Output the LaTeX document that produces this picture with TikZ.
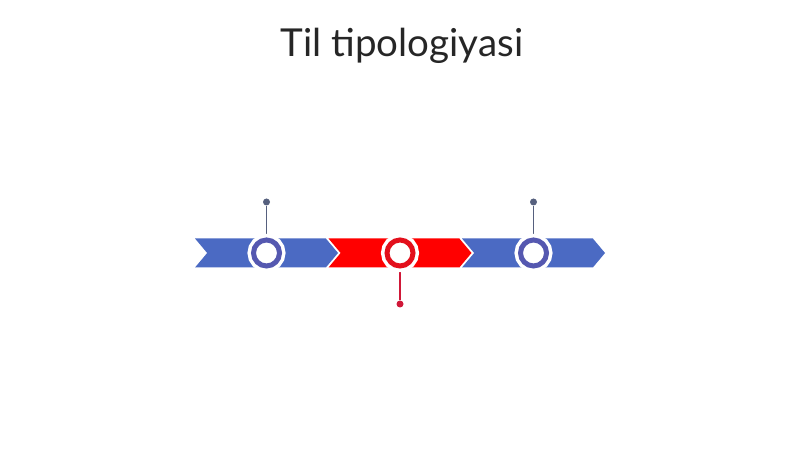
\documentclass[tikz,border=0pt]{standalone}
\usepackage{fontspec}
\setmainfont{Lato}
\usetikzlibrary{positioning,shapes.symbols}

\definecolor{bandblue}{HTML}{4B6AC3}
\definecolor{bandred}{HTML}{FF0000}
\definecolor{ringblue}{HTML}{5558B0}
\definecolor{ringred}{HTML}{E3101C}
\definecolor{pinblue}{HTML}{56607E}
\definecolor{pinred}{HTML}{D01838}

\begin{document}
\begin{tikzpicture}[x=1pt,y=1pt,node distance=133.5pt,on grid,
    band/.style={signal, signal to=east, signal from=west, signal pointer angle=100,
                 fill=#1, minimum width=143pt, minimum height=29pt, inner sep=0pt},
    ring/.style={circle, draw=white, double=#1, double distance=5pt, line width=3.5pt,
                 fill=white, minimum size=26pt, inner sep=0pt},
    dot/.style={circle, fill=#1, minimum size=7pt, inner sep=0pt},
    stem/.style={draw=#1, line width=1.4pt}]
    \useasboundingbox (0,0) rectangle (800,449);
    \node[anchor=base, font=\fontsize{38.5}{42}\selectfont, text=black!85] (title) at (402,392.5) {Til tipologiyasi};
    \node[band=bandblue] (b_1) at (266.5,196) {};
    \node[band=bandred] (b_2) [right=of b_1] {};
    \node[band=bandblue] (b_3) [right=of b_2] {};
    \node[dot=pinblue] (p_1) [above=51pt of b_1] {};
    \node[dot=pinred] (p_2) [below=51pt of b_2] {};
    \node[dot=pinblue] (p_3) [above=51pt of b_3] {};
    \draw[stem=pinblue] (b_1.center) -- (p_1);
    \draw[stem=pinred] (b_2.center) -- (p_2);
    \draw[stem=pinblue] (b_3.center) -- (p_3);
    \node[ring=ringblue] (r_1) at (b_1) {};
    \node[ring=ringred] (r_2) at (b_2) {};
    \node[ring=ringblue] (r_3) at (b_3) {};
\end{tikzpicture}
\end{document}
